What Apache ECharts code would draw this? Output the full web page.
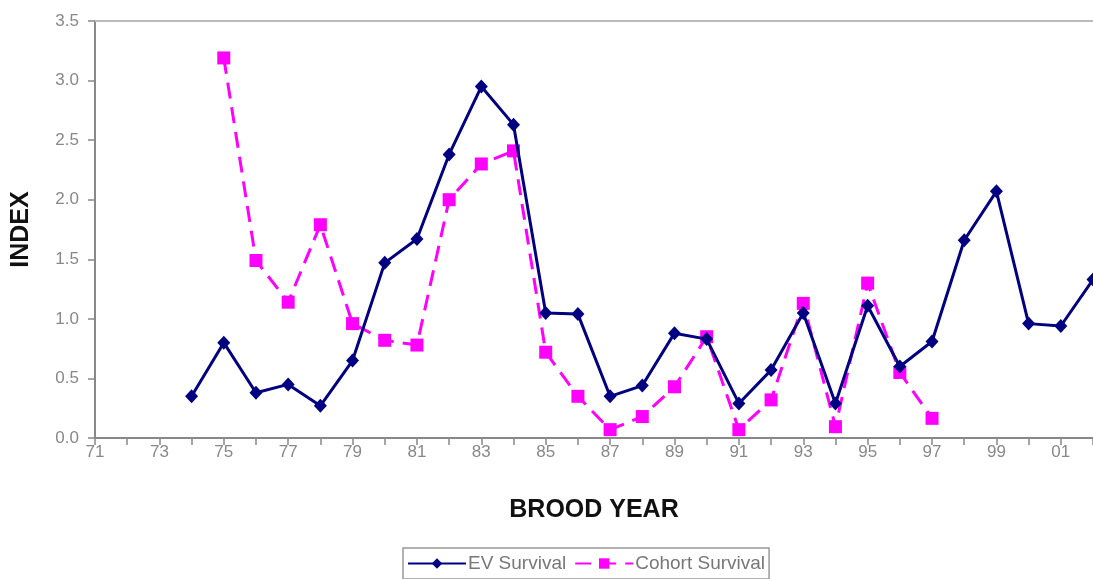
<!DOCTYPE html>
<html>
<head>
<meta charset="utf-8">
<script src="https://cdn.jsdelivr.net/npm/echarts@6/dist/echarts.min.js"></script>
<style>
html,body{margin:0;padding:0;background:#fff;}
#chart{width:1093px;height:579px;}
</style>
</head>
<body>
<div id="chart"></div>
<script>
const years = ['71','72','73','74','75','76','77','78','79','80','81','82','83','84','85','86','87','88','89','90','91','92','93','94','95','96','97','98','99','00','01','02'];
const evSurvival = [null,null,null,0.35,0.80,0.38,0.45,0.27,0.65,1.47,1.67,2.38,2.95,2.63,1.05,1.04,0.35,0.44,0.88,0.83,0.29,0.57,1.05,0.29,1.11,0.60,0.81,1.66,2.07,0.96,0.94,1.33];
const cohortSurvival = [null,null,null,null,3.19,1.49,1.14,1.79,0.96,0.82,0.78,2.00,2.30,2.41,0.72,0.35,0.07,0.18,0.43,0.85,0.07,0.32,1.13,0.095,1.30,0.55,0.165,null,null,null,null,null];
const yTicks = {min:0, max:3.5, interval:0.5};

const font = 'Liberation Sans, Arial, sans-serif';
const chart = echarts.init(document.getElementById('chart'));
chart.setOption({
  animation:false,
  backgroundColor:'#fff',
  grid:{left:95, top:21, width:1002, height:417, containLabel:false},
  xAxis:[{
    type:'category', data:years, boundaryGap:false,
    name:'BROOD YEAR', nameLocation:'middle', nameGap:60,
    nameTextStyle:{fontFamily:font, fontWeight:'bold', fontSize:25, color:'#111'},
    axisLine:{lineStyle:{color:'#888', width:2}},
    axisTick:{show:true, interval:0, length:7, lineStyle:{color:'#888', width:1.5}},
    axisLabel:{interval:1, fontFamily:font, fontSize:17, color:'#888', margin:6},
    splitLine:{show:false}
  },{
    type:'category', data:years, position:'top', boundaryGap:false,
    axisLine:{show:true, lineStyle:{color:'#bbb', width:2}},
    axisTick:{show:false}, axisLabel:{show:false}, splitLine:{show:false}
  }],
  yAxis:{
    type:'value', min:yTicks.min, max:yTicks.max, interval:yTicks.interval,
    name:'INDEX', nameLocation:'middle', nameGap:61, nameRotate:90,
    nameTextStyle:{fontFamily:font, fontWeight:'bold', fontSize:25, color:'#111'},
    axisLine:{show:true, lineStyle:{color:'#888', width:2}},
    axisTick:{show:true, length:7, lineStyle:{color:'#888', width:1.5}},
    axisLabel:{fontFamily:font, fontSize:17, color:'#888', margin:16, formatter:v=>v.toFixed(1)},
    splitLine:{show:false}
  },
  legend:{
    bottom:0, left:403,
    data:['EV Survival','Cohort Survival'],
    borderColor:'#999', borderWidth:1.5, borderRadius:0,
    padding:[6,4,6,4], itemGap:8, itemWidth:58, itemHeight:13,
    textStyle:{fontFamily:font, fontSize:19, color:'#777', padding:[0,0,0,-3]}
  },
  series:[{
    name:'EV Survival', type:'line', data:evSurvival,
    color:'#000080', symbol:'diamond', symbolSize:[13,14], showSymbol:true,
    lineStyle:{color:'#000080', width:3}, itemStyle:{color:'#000080'},
    connectNulls:false, z:3
  },{
    name:'Cohort Survival', type:'line', data:cohortSurvival,
    color:'#ff00ff', symbol:'rect', symbolSize:13, showSymbol:true,
    lineStyle:{color:'#ff00ff', width:3, type:[16,9]}, itemStyle:{color:'#ff00ff'},
    connectNulls:false, z:2
  }]
});
</script>
</body>
</html>
